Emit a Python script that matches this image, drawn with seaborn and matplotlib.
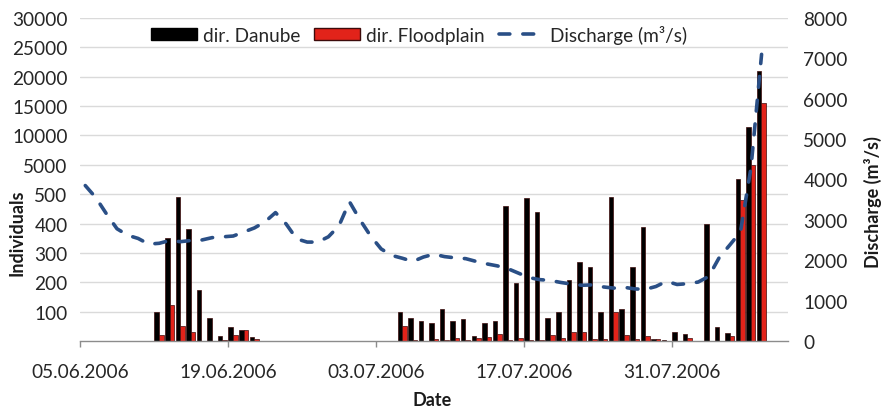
import numpy as np
import pandas as pd
import matplotlib
matplotlib.use("Agg")
import matplotlib.pyplot as plt
import seaborn as sns
from matplotlib.patches import Patch
from matplotlib.lines import Line2D

# ---- data -------------------------------------------------------------
axis_start = "05.06.2006"
axis_days = 67

june_dates = pd.date_range("2006-06-12", "2006-06-21")
july_dates = pd.date_range("2006-07-05", "2006-08-08")

danube_june = [100, 350, 490, 380, 175, 78, 18, 48, 39, 13]
flood_june = [20, 122, 52, 32, 0, 0, 5, 20, 39, 6]

danube_july = [100, 77, 68, 60, 109, 69, 75, 18, 60, 69,
               459, 198, 488, 441, 77, 100, 209, 268, 251, 98,
               490, 109, 251, 388, 7, 3, 30, 24, 0, 400,
               49, 27, 2800, 11500, 21000]
flood_july = [52, 5, 0, 8, 3, 10, 3, 10, 15, 24,
              3, 9, 3, 3, 22, 9, 32, 30, 7, 7,
              100, 20, 7, 16, 7, 0, 0, 9, 0, 0,
              0, 16, 480, 5000, 15500]

# daily discharge from 05.06.2006 to 08.08.2006 (m3/s)
discharge = [3850, 3550, 3150, 2780, 2620, 2540, 2400, 2420, 2490, 2460,
             2490, 2500, 2560, 2580, 2600, 2700, 2800, 2950, 3180, 2900,
             2530, 2450, 2450, 2580, 2850, 3450, 3000, 2600, 2280, 2120,
             2050, 1970, 2080, 2150, 2090, 2060, 2040, 1970, 1910, 1860,
             1790, 1680, 1570, 1520, 1500, 1450, 1410, 1380, 1390, 1340,
             1310, 1330, 1290, 1280, 1350, 1480, 1400, 1420, 1460, 1600,
             2070, 2380, 2700, 4300, 7100]

tick_dates = ["05.06.2006", "19.06.2006", "03.07.2006", "17.07.2006", "31.07.2006"]
left_ticks = [100, 200, 300, 400, 500, 5000, 10000, 15000, 20000, 25000, 30000]
right_ticks = [0, 1000, 2000, 3000, 4000, 5000, 6000, 7000, 8000]

series_names = ["dir. Danube", "dir. Floodplain"]
line_name = "Discharge (m³/s)"
colors = {"dir. Danube": "#000000", "dir. Floodplain": "#e2231a"}
line_color = "#2a4f86"
line_dashes = (3.0, 3.6)   # scaled by the line width when drawn
line_width = 2.6

# ---- helpers ------------------------------------------------------------
t0 = pd.to_datetime(axis_start, format="%d.%m.%Y")


def day_of(dates):
    return (pd.to_datetime(dates) - t0).days.to_numpy()


# broken individuals axis: 0-500 linear, 500-5000 one step, 5000-30000 linear
def fwd(v):
    v = np.asarray(v, dtype=float)
    return np.where(v <= 500, v / 100.0,
                    np.where(v <= 5000, 5 + (v - 500) / 4500.0,
                             6 + (v - 5000) / 5000.0))


def inv(p):
    p = np.asarray(p, dtype=float)
    return np.where(p <= 5, p * 100.0,
                    np.where(p <= 6, 500 + (p - 5) * 4500.0,
                             5000 + (p - 6) * 5000.0))


bar_days = np.concatenate([day_of(june_dates), day_of(july_dates)]) + 0.48
bars = pd.DataFrame({
    "day": np.concatenate([bar_days, bar_days]),
    "series": [series_names[0]] * len(bar_days) + [series_names[1]] * len(bar_days),
    "count": danube_june + danube_july + flood_june + flood_july,
})
line_df = pd.DataFrame({
    "day": np.arange(len(discharge)) + 0.5,
    "discharge": discharge,
})

# ---- figure -------------------------------------------------------------
sns.set_theme(style="white")
plt.rcParams["font.family"] = ["Lato", "DejaVu Sans"]
fs = 13.7
text_col = "#262626"

fig = plt.figure(figsize=(8.83, 4.10), dpi=100)
ax = fig.add_axes([80 / 883, 68 / 410, 708 / 883, 323 / 410])
ax.set_yscale("function", functions=(fwd, inv))

sns.barplot(data=bars, x="day", y="count", hue="series", hue_order=series_names,
            palette=colors, native_scale=True, width=0.86, dodge=True,
            errorbar=None, saturation=1, legend=False, ax=ax,
            edgecolor="#3d0b0b", linewidth=0.5)

ax.set_ylim(0, 30000)
ax.set_xlim(0, axis_days)
ax.set_yticks(left_ticks)
ax.set_yticklabels([str(v) for v in left_ticks])
ax.yaxis.grid(True, color="#dadada", linewidth=1.0)
ax.set_axisbelow(True)
ax.tick_params(axis="y", length=0, pad=9, labelsize=fs, labelcolor=text_col)

ax.set_xticks(day_of(pd.to_datetime(tick_dates, format="%d.%m.%Y")))
ax.set_xticklabels(tick_dates)
ax.tick_params(axis="x", bottom=True, direction="out", length=4, width=1,
               color="#8c8c8c", pad=12, labelsize=fs, labelcolor=text_col)
for side in ["left", "right", "top"]:
    ax.spines[side].set_visible(False)
ax.spines["bottom"].set_color("#8c8c8c")
ax.spines["bottom"].set_linewidth(1.0)
ax.set_xlabel("")
ax.set_ylabel("")

ax2 = ax.twinx()
sns.lineplot(data=line_df, x="day", y="discharge", ax=ax2, color=line_color,
             linewidth=line_width)
for ln in ax2.get_lines():
    ln.set_linestyle((0, line_dashes))
    ln.set_dash_capstyle("round")
ax2.set_ylim(0, 8000)
ax2.set_yticks(right_ticks)
ax2.set_yticklabels([str(v) for v in right_ticks])
ax2.tick_params(axis="y", length=0, pad=11, labelsize=fs, labelcolor=text_col)
ax2.grid(False)
for side in ["left", "right", "top", "bottom"]:
    ax2.spines[side].set_visible(False)
ax2.set_xlabel("")
ax2.set_ylabel("")

# axis titles
fig.text(17 / 883, 1 - 233 / 410, "Individuals", rotation=90, ha="center",
         va="center", fontsize=13, fontweight="bold", color="#1a1a1a")
fig.text(873 / 883, 1 - 202 / 410, "Discharge (m³/s)", rotation=90, ha="center",
         va="center", fontsize=13, fontweight="bold", color="#1a1a1a")
fig.text(432 / 883, 1 - 401 / 410, "Date", ha="center", va="center",
         fontsize=13, fontweight="bold", color="#1a1a1a")

legend_line = Line2D([], [], color=line_color, linewidth=line_width,
                     linestyle=(0, line_dashes), dash_capstyle="round")
handles = [Patch(facecolor=colors[series_names[0]], edgecolor="#000000"),
           Patch(facecolor=colors[series_names[1]], edgecolor="#3d0b0b"),
           legend_line]
ax2.legend(handles, series_names + [line_name], loc="center",
           bbox_to_anchor=(0.479, 0.95), ncol=3, frameon=False, fontsize=fs,
           handlelength=2.4, handleheight=0.65, handletextpad=0.3,
           columnspacing=0.75, labelcolor=text_col)

fig.savefig("out.png", dpi=100)
